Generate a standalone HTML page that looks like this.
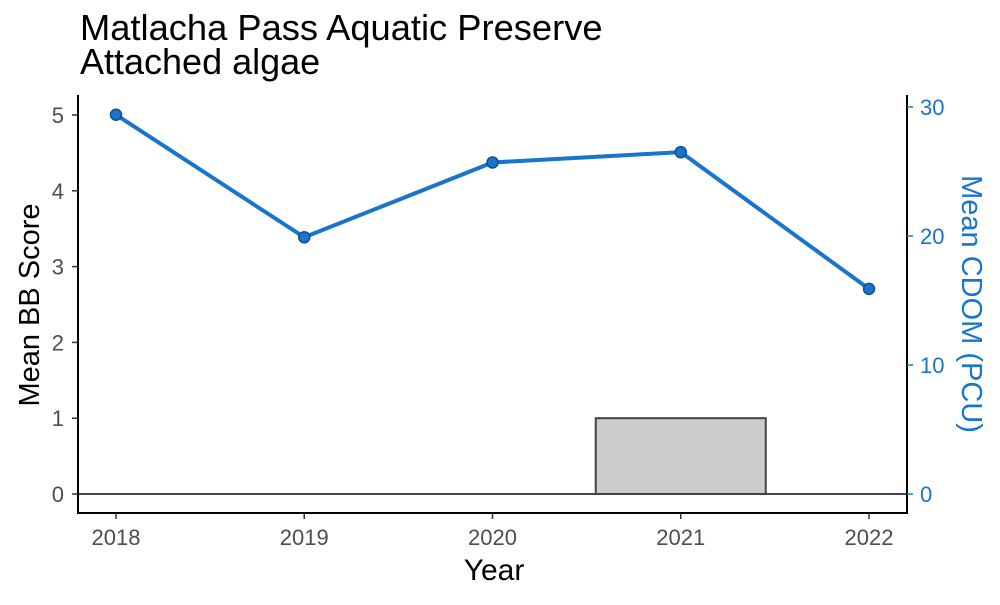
<!DOCTYPE html>
<html><head><meta charset="utf-8"><style>
body{margin:0;background:#fff;}
svg text{font-family:"Liberation Sans",Arial,sans-serif;}
</style></head><body>
<svg id="chart" width="1000" height="600" viewBox="0 0 1000 600">
<text x="80" y="40" font-size="36.3" fill="#000">Matlacha Pass Aquatic Preserve</text>
<text x="80" y="74" font-size="36" fill="#000">Attached algae</text>
<g id="plot"></g>
<text x="494" y="580" font-size="30" text-anchor="middle" fill="#000">Year</text>
<text transform="translate(39,305) rotate(-90)" font-size="29" text-anchor="middle" fill="#000">Mean BB Score</text>
<text transform="translate(962,304) rotate(90)" font-size="29" text-anchor="middle" fill="#1874CD">Mean CDOM (PCU)</text>
</svg>
<script>
const years=[2018,2019,2020,2021,2022];
const bbScores=[0,0,0,1,0];
const cdom=[29.4,19.9,25.7,26.5,15.9];
const leftTicks=[0,1,2,3,4,5];
const rightTicks=[0,10,20,30];
const NS="http://www.w3.org/2000/svg";
const g=document.getElementById('plot');
const x=v=>116+(v-2018)*188.25;
const yL=v=>494-v*75.8;
const yR=v=>494-v*12.9;
function mk(t,a){const e=document.createElementNS(NS,t);for(const k in a)e.setAttribute(k,a[k]);g.appendChild(e);return e;}
years.forEach((yr,i)=>{if(bbScores[i]>0){const r=mk('rect',{x:x(yr)-85,y:yL(bbScores[i]),width:170,height:yL(0)-yL(bbScores[i]),fill:'#cccccc',stroke:'#444','stroke-width':2});

}});
const z=mk('line',{x1:78,x2:907,y1:yL(0),y2:yL(0),stroke:'#444','stroke-width':2});


const pl=mk('polyline',{points:years.map((yr,i)=>x(yr)+','+yR(cdom[i])).join(' '),fill:'none',stroke:'#1874CD','stroke-width':4});


years.forEach((yr,i)=>{const c=mk('circle',{cx:x(yr),cy:yR(cdom[i]),r:5.5,fill:'#1874CD',stroke:'#104E8B','stroke-width':1.5});

});
const al=mk('line',{x1:78,x2:78,y1:95,y2:514,stroke:'#000','stroke-width':2});


const ar=mk('line',{x1:907,x2:907,y1:95,y2:514,stroke:'#000','stroke-width':2});


const ab=mk('line',{x1:77,x2:908,y1:513,y2:513,stroke:'#000','stroke-width':2});


leftTicks.forEach(v=>{mk('line',{x1:72,x2:78,y1:yL(v),y2:yL(v),stroke:'#333','stroke-width':1.5});
const t=mk('text',{x:64,y:yL(v)+8,'font-size':22,'text-anchor':'end',fill:'#4d4d4d'});t.textContent=v;

});
rightTicks.forEach(v=>{mk('line',{x1:907,x2:913,y1:yR(v),y2:yR(v),stroke:'#1874CD','stroke-width':1.5});
const t=mk('text',{x:920,y:yR(v)+8,'font-size':22,fill:'#1874CD'});t.textContent=v;

});
years.forEach(yr=>{mk('line',{x1:x(yr),x2:x(yr),y1:513,y2:519,stroke:'#333','stroke-width':1.5});
const t=mk('text',{x:x(yr),y:545,'font-size':22,'text-anchor':'middle',fill:'#4d4d4d'});t.textContent=yr;

});
</script>
</body></html>
